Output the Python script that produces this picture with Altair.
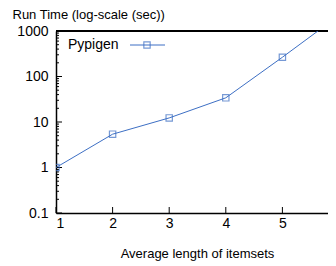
import altair as alt
import pandas as pd

# data
lengths = [1, 2, 3, 4, 5, 6]
run_time = [1.0, 5.4, 12.3, 34, 265, 2200]
series_name = "Pypigen"

y_major = [0.1, 1, 10, 100, 1000]
y_minor = [m * d for d in [0.1, 1, 10, 100] for m in range(2, 10)]
x_major = [1, 2, 3, 4, 5]

W, H = 272, 182
BLUE = "#3d6fc4"
FONT = "Liberation Sans"

df = pd.DataFrame({"x": lengths, "y": run_time})

xscale = alt.Scale(domain=[1, 1 + W / 56.6], nice=False, zero=False)
yscale = alt.Scale(type="log", domain=[0.1, 1000], nice=False)

base = alt.Chart(df)

line = base.mark_line(color=BLUE, strokeWidth=1, clip=True).encode(
    x=alt.X("x:Q", scale=xscale,
            axis=alt.Axis(values=x_major, format="d", grid=False, tickSize=0,
                          labelPadding=3, labelFontSize=14, labelFont=FONT,
                          labelColor="black", domainColor="black", domainWidth=1.5,
                          title="Average length of itemsets", titleFont=FONT,
                          titleFontSize=13, titleFontWeight="normal", titleColor="black",
                          titleX=141, titleY=40, titleBaseline="middle")),
    y=alt.Y("y:Q", scale=yscale,
            axis=alt.Axis(values=y_major, format="~g", grid=False, tickSize=0,
                          labelPadding=8, labelFontSize=14, labelFont=FONT,
                          labelColor="black", domainColor="black", domainWidth=1.5,
                          title="Run Time (log-scale (sec))", titleFont=FONT,
                          titleFontSize=13, titleFontWeight="normal", titleColor="black",
                          titleAngle=0, titleAlign="left", titleBaseline="top",
                          titleX=-44, titleY=-23)),
)

points = base.mark_point(shape="square", size=40, filled=False, color=BLUE,
                         strokeWidth=1.2, clip=True).encode(
    x=alt.X("x:Q", scale=xscale), y=alt.Y("y:Q", scale=yscale))

minor_df = pd.DataFrame({"v": y_minor})
major_df = pd.DataFrame({"v": y_major})
xt_df = pd.DataFrame({"v": x_major})

minor_ticks = alt.Chart(minor_df).mark_rule(color="black", strokeWidth=1).encode(
    y=alt.Y("v:Q", scale=yscale), x=alt.value(0), x2=alt.value(3))
major_ticks = alt.Chart(major_df).mark_rule(color="black", strokeWidth=1).encode(
    y=alt.Y("v:Q", scale=yscale), x=alt.value(0), x2=alt.value(6))
x_ticks = alt.Chart(xt_df).mark_rule(color="black", strokeWidth=1).encode(
    x=alt.X("v:Q", scale=xscale), y=alt.value(H), y2=alt.value(H - 6))

top_border = alt.Chart(df).mark_rule(color="black", strokeWidth=1.5).encode(
    x=alt.value(0), x2=alt.value(W), y=alt.value(0))

leg_df = pd.DataFrame({"name": [series_name]})
leg_text = alt.Chart(leg_df).mark_text(align="left", baseline="middle", fontSize=14,
                                       font=FONT, color="black").encode(
    text="name:N", x=alt.value(12), y=alt.value(14))
leg_line = alt.Chart(leg_df).mark_rule(color=BLUE, strokeWidth=1).encode(
    x=alt.value(74), x2=alt.value(109), y=alt.value(14))
leg_pt = alt.Chart(leg_df).mark_point(shape="square", size=40, filled=False,
                                      color=BLUE, strokeWidth=1.2).encode(
    x=alt.value(91), y=alt.value(14))

chart = alt.layer(minor_ticks, major_ticks, x_ticks, top_border, line, points,
                  leg_line, leg_pt, leg_text).properties(
    width=W, height=H,
    autosize=alt.AutoSizeParams(type="none"),
    padding={"left": 48, "top": 23, "right": 0, "bottom": 48},
    background="white",
).configure_view(stroke=None)

chart.save("out.html", embed_options={"renderer": "svg", "actions": False})
